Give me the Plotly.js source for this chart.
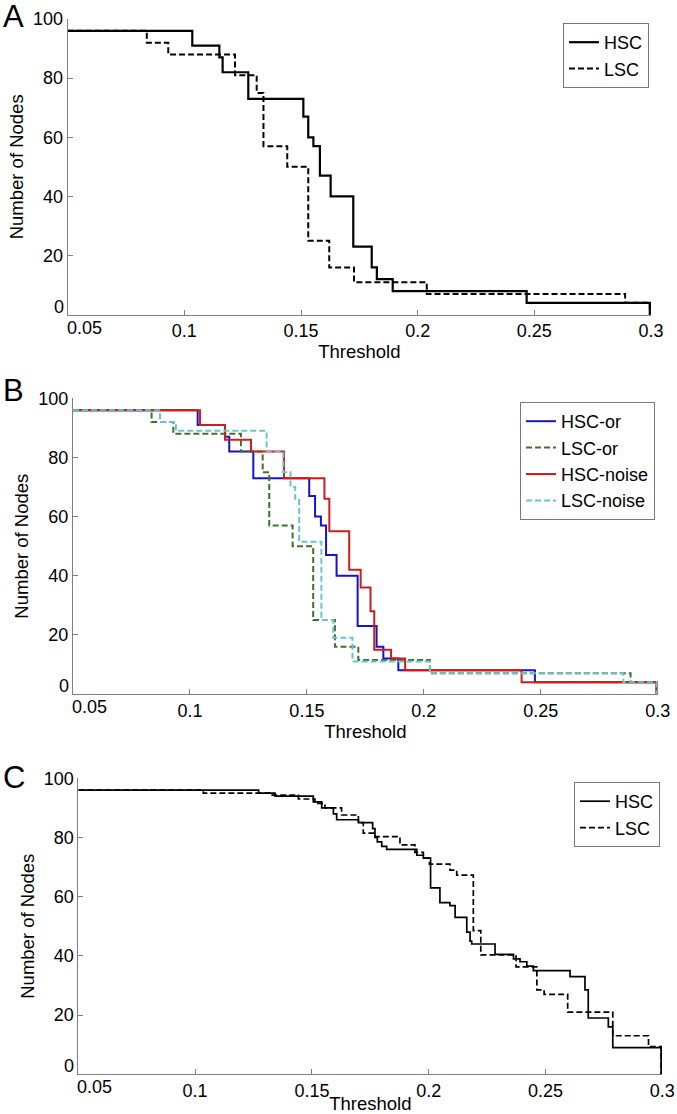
<!DOCTYPE html>
<html>
<head>
<meta charset="utf-8">
<script src="https://cdn.plot.ly/plotly-3.0.1.min.js"></script>
<style>
  html, body { margin: 0; padding: 0; background: #ffffff; }
  #chart { width: 677px; height: 1114px; }
</style>
</head>
<body>
<div id="chart"></div>
<script>
// ---------- Data (step curves: value holds from each threshold onward) ----------
// Panel A
const A_HSC_x = [0.05, 0.1034, 0.115, 0.1164, 0.1274, 0.151, 0.1531, 0.1553, 0.1581, 0.1627, 0.1724, 0.1803, 0.1825, 0.1893, 0.2467, 0.2995];
const A_HSC_y = [96, 91, 87, 82, 73, 67, 60, 57, 47, 40, 23, 16, 12, 8, 4, 0];
const A_LSC_x = [0.05, 0.0839, 0.0931, 0.1217, 0.131, 0.1339, 0.1441, 0.1531, 0.1621, 0.1727, 0.2039, 0.2889, 0.2995];
const A_LSC_y = [96, 92, 88, 81, 75, 57, 50, 25, 16, 11, 7, 4, 0];

// Panel B
const B_HSCor_x = [0.05, 0.1033, 0.115, 0.1168, 0.1271, 0.151, 0.1535, 0.156, 0.1582, 0.1627, 0.1717, 0.1798, 0.1827, 0.1891, 0.2475, 0.2995];
const B_HSCor_y = [96, 91, 87, 82, 73, 67, 60, 57, 47, 40, 23, 16, 12, 8, 4, 0];
const B_LSCor_x = [0.05, 0.0836, 0.0929, 0.1218, 0.1311, 0.1339, 0.1439, 0.1527, 0.162, 0.172, 0.2026, 0.2884, 0.2995];
const B_LSCor_y = [96, 92, 88, 82, 75, 57, 50, 25, 16, 11.5, 7, 4, 0];
const B_HSCnoise_x = [0.05, 0.1043, 0.115, 0.1261, 0.1402, 0.1575, 0.1596, 0.1681, 0.173, 0.1772, 0.1788, 0.186, 0.192, 0.2418, 0.2995];
const B_HSCnoise_y = [96, 91, 86, 82, 73, 66, 55, 42, 36, 28, 15, 12, 8, 4, 0];
const B_LSCnoise_x = [0.05, 0.0872, 0.094, 0.1328, 0.1399, 0.143, 0.145, 0.1467, 0.1562, 0.1613, 0.1695, 0.2026, 0.2853, 0.2995];
const B_LSCnoise_y = [96, 92, 89, 82, 75, 70, 66, 51.5, 25, 19, 11, 7, 4, 0];

// Panel C
const C_HSC_x = [0.05, 0.1272, 0.1342, 0.1506, 0.1542, 0.1592, 0.1606, 0.1699, 0.176, 0.177, 0.178, 0.1799, 0.182, 0.1949, 0.1977, 0.2008, 0.2048, 0.2091, 0.2113, 0.2163, 0.2177, 0.2184, 0.2284, 0.2363, 0.2391, 0.242, 0.2448, 0.2605, 0.2669, 0.2683, 0.2769, 0.2788, 0.2995];
const C_HSC_y = [96, 95, 94, 92, 90, 88, 86, 85, 83, 80, 78.5, 77, 76, 74, 73, 63, 58, 57, 53, 48, 45, 44, 40.5, 39, 38, 36.5, 35, 33, 28.5, 19, 16, 9, 0];
const C_LSC_x = [0.05, 0.1035, 0.133, 0.1442, 0.1513, 0.1556, 0.1627, 0.1699, 0.172, 0.177, 0.1877, 0.1941, 0.1977, 0.2003, 0.2091, 0.212, 0.2191, 0.2223, 0.2374, 0.2463, 0.2494, 0.2595, 0.2788, 0.2941, 0.2995];
const C_LSC_y = [96, 95, 94.3, 93, 91.5, 90, 87.6, 85, 81.5, 80.3, 77.5, 75, 73, 71, 69, 67.3, 48.5, 40.3, 36.3, 28.5, 27, 21, 13, 9.3, 0];

// Axis ticks
const X_TICK_VALS = [0.05, 0.1, 0.15, 0.2, 0.25, 0.3];
const X_TICK_TEXT = ['0.05', '0.1', '0.15', '0.2', '0.25', '0.3'];
const Y_TICK_VALS = [0, 20, 40, 60, 80, 100];
const Y_TICK_TEXT = ['0', '20', '40', '60', '80', '100'];
const PANEL_LABELS = ['A', 'B', 'C'];
const X_TITLE = 'Threshold';
const Y_TITLE = 'Number of Nodes';

// ---------- Styling ----------
const FONT = 'Liberation Sans, Arial, Helvetica, sans-serif';
const AX_COLOR = '#808080';
const DASH = '6px,3px';
const TICK_SIZE = 18;

function line(x, y, name, color, dash, width, xa, ya, legend) {
  return {
    type: 'scatter', mode: 'lines', x: x, y: y, name: name,
    line: { shape: 'hv', color: color, dash: dash, width: width },
    xaxis: xa, yaxis: ya, legend: legend, hoverinfo: 'skip'
  };
}

const traces = [
  line(A_HSC_x, A_HSC_y, 'HSC', '#000000', 'solid', 2.2, 'x', 'y', 'legend'),
  line(A_LSC_x, A_LSC_y, 'LSC', '#000000', DASH, 2.0, 'x', 'y', 'legend'),
  line(B_HSCor_x, B_HSCor_y, 'HSC-or', '#1414c8', 'solid', 2.0, 'x2', 'y2', 'legend2'),
  line(B_LSCor_x, B_LSCor_y, 'LSC-or', '#43702a', DASH, 2.0, 'x2', 'y2', 'legend2'),
  line(B_HSCnoise_x, B_HSCnoise_y, 'HSC-noise', '#cc1e1e', 'solid', 2.0, 'x2', 'y2', 'legend2'),
  line(B_LSCnoise_x, B_LSCnoise_y, 'LSC-noise', '#6cc4c6', DASH, 2.0, 'x2', 'y2', 'legend2'),
  line(C_HSC_x, C_HSC_y, 'HSC', '#000000', 'solid', 1.7, 'x3', 'y3', 'legend3'),
  line(C_LSC_x, C_LSC_y, 'LSC', '#000000', DASH, 1.7, 'x3', 'y3', 'legend3')
];

const W = 677, H = 1114;
function px2x(p) { return p / W; }
function px2y(p) { return 1 - p / H; }

// The first tick label of each axis is drawn separately (shifted inward, as in the original figure)
const X_MAIN_TEXT = X_TICK_TEXT.map((t, i) => (i === 0 ? '' : t));
const Y_MAIN_TEXT = Y_TICK_TEXT.map((t, i) => (i === 0 ? '' : t));

function xAxis(left, right, anchor) {
  return {
    domain: [px2x(left), px2x(right)], anchor: anchor,
    range: [X_TICK_VALS[0], X_TICK_VALS[X_TICK_VALS.length - 1]],
    tickvals: X_TICK_VALS, ticktext: X_MAIN_TEXT,
    showline: true, linecolor: AX_COLOR, linewidth: 1, mirror: false,
    ticks: 'inside', ticklen: 5, tickcolor: AX_COLOR, tickwidth: 1,
    showgrid: false, zeroline: false,
    tickfont: { family: FONT, size: TICK_SIZE, color: '#000' },
    title: { text: X_TITLE, font: { family: FONT, size: 18.5, color: '#000' }, standoff: 2 },
    fixedrange: true
  };
}
function yAxis(top, bottom, anchor) {
  return {
    domain: [px2y(bottom), px2y(top)], anchor: anchor,
    range: [Y_TICK_VALS[0], Y_TICK_VALS[Y_TICK_VALS.length - 1]],
    tickvals: Y_TICK_VALS, ticktext: Y_MAIN_TEXT,
    showline: true, linecolor: AX_COLOR, linewidth: 1, mirror: false,
    ticks: 'inside', ticklen: 5, tickcolor: AX_COLOR, tickwidth: 1,
    showgrid: false, zeroline: false,
    tickfont: { family: FONT, size: TICK_SIZE, color: '#000' },
    title: { text: Y_TITLE, font: { family: FONT, size: 18.5, color: '#000' }, standoff: 4 },
    fixedrange: true
  };
}
function legendBox(rightPx, topPx) {
  return {
    x: px2x(rightPx), y: px2y(topPx), xanchor: 'right', yanchor: 'top',
    bgcolor: '#ffffff', bordercolor: '#7a7a7a', borderwidth: 1,
    font: { family: FONT, size: 18, color: '#000' },
    tracegroupgap: 0, itemwidth: 30, itemclick: false, itemdoubleclick: false
  };
}
function edgeLabels(xr, yr) {
  return [
    { text: X_TICK_TEXT[0], xref: xr, yref: yr, x: X_TICK_VALS[0], y: Y_TICK_VALS[0],
      xanchor: 'left', yanchor: 'top', xshift: -3, yshift: -1, showarrow: false,
      font: { family: FONT, size: TICK_SIZE, color: '#000' } },
    { text: Y_TICK_TEXT[0], xref: xr, yref: yr, x: X_TICK_VALS[0], y: Y_TICK_VALS[0],
      xanchor: 'right', yanchor: 'bottom', xshift: -2, yshift: -4, showarrow: false,
      font: { family: FONT, size: TICK_SIZE, color: '#000' } }
  ];
}
function panelLabel(text, yPx) {
  return { text: text, xref: 'paper', yref: 'paper', x: px2x(1), y: px2y(yPx),
    xanchor: 'left', yanchor: 'middle', showarrow: false,
    font: { family: FONT, size: 31, color: '#000' } };
}

const layout = {
  width: W, height: H,
  margin: { l: 0, r: 0, t: 0, b: 0 },
  paper_bgcolor: '#ffffff', plot_bgcolor: '#ffffff',
  font: { family: FONT, color: '#000' },
  showlegend: true,
  xaxis: xAxis(67.7, 651, 'y'),
  yaxis: yAxis(19, 314.7, 'x'),
  xaxis2: xAxis(73, 657.7, 'y2'),
  yaxis2: yAxis(398.3, 694, 'x2'),
  xaxis3: xAxis(78.3, 662.3, 'y3'),
  yaxis3: yAxis(778.3, 1074.2, 'x3'),
  legend: legendBox(649, 23),
  legend2: legendBox(655, 402),
  legend3: legendBox(660, 782),
  annotations: [
    panelLabel(PANEL_LABELS[0], 17),
    panelLabel(PANEL_LABELS[1], 391),
    panelLabel(PANEL_LABELS[2], 778)
  ].concat(edgeLabels('x', 'y'), edgeLabels('x2', 'y2'), edgeLabels('x3', 'y3'))
};

Plotly.newPlot('chart', traces, layout, { displayModeBar: false, staticPlot: true });
</script>
</body>
</html>
